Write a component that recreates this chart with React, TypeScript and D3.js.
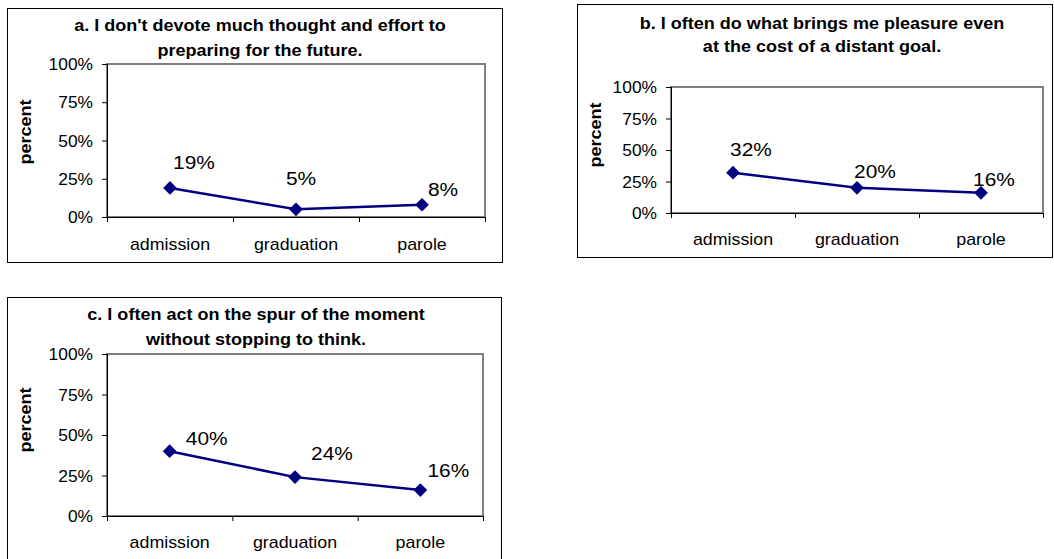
import * as d3 from "d3";

const categories = ["admission", "graduation", "parole"];
const yTicks = [0, 0.25, 0.5, 0.75, 1];

const titleA = ["a. I don't devote much thought and effort to", "preparing for the future."];
const titleB = ["b. I often do what brings me pleasure even", "at the cost of a distant goal."];
const titleC = ["c. I often act on the spur of the moment", "without stopping to think."];

const valuesA = [0.19, 0.05, 0.08];
const valuesB = [0.32, 0.2, 0.16];
const valuesC = [0.4, 0.24, 0.16];

const FONT = "Arial, 'Liberation Sans', sans-serif";
const SX = 1.1; // the original text is rendered a bit wider than Liberation Sans
const NAVY = "#000080";

type Box = { x: number; y: number; w: number; h: number };
type Plot = { l: number; t: number; r: number; b: number };

type PanelProps = {
  frame: Box;
  plot: Plot;
  title: string[];
  titleX: number;
  titleY: number[];
  catY: number;
  yLabel: [number, number];
  values: number[];
  labelOff: [number, number][];
};

function Txt({
  x,
  y,
  size,
  bold,
  anchor = "middle",
  rotate = 0,
  children,
}: {
  x: number;
  y: number;
  size: number;
  bold?: boolean;
  anchor?: string;
  rotate?: number;
  children: any;
}) {
  return (
    <g transform={`translate(${x},${y}) rotate(${rotate}) scale(${SX},1)`}>
      <text
        x={0}
        y={0}
        textAnchor={anchor}
        fontSize={size}
        fontWeight={bold ? "bold" : "normal"}
        fontFamily={FONT}
        fill="#000"
      >
        {children}
      </text>
    </g>
  );
}

function Panel({ frame, plot, title, titleX, titleY, catY, yLabel, values, labelOff }: PanelProps) {
  const x = d3.scaleBand().domain(categories).range([plot.l, plot.r]).padding(0);
  const y = d3.scaleLinear().domain([0, 1]).range([plot.b, plot.t]);
  const fmt = d3.format(".0%");
  const cx = (c: string) => (x(c) ?? 0) + x.bandwidth() / 2;

  const line = d3
    .line<number>()
    .x((_, i) => cx(categories[i]))
    .y((d) => y(d));

  const diamond = d3.symbol(d3.symbolDiamond2, 120)();
  const bounds = [...categories.map((c) => x(c) ?? 0), plot.r];

  return (
    <g>
      <rect x={frame.x + 0.5} y={frame.y + 0.5} width={frame.w} height={frame.h} fill="#fff" stroke="#000" strokeWidth={1} />
      {title.map((t, i) => (
        <Txt key={i} x={titleX} y={titleY[i]} size={16.4} bold>
          {t}
        </Txt>
      ))}
      <Txt x={yLabel[0]} y={yLabel[1]} size={16.4} bold rotate={-90}>
        percent
      </Txt>
      <rect x={plot.l} y={plot.t} width={plot.r - plot.l} height={plot.b - plot.t} fill="none" stroke="#808080" strokeWidth={2} />
      <line x1={plot.l + 0.5} x2={plot.l + 0.5} y1={plot.t} y2={plot.b + 4} stroke="#000" />
      <line x1={plot.l} x2={plot.r} y1={plot.b + 0.5} y2={plot.b + 0.5} stroke="#000" />
      {yTicks.map((t) => (
        <g key={t}>
          <line x1={plot.l - 5} x2={plot.l} y1={y(t) + 0.5} y2={y(t) + 0.5} stroke="#000" />
          <Txt x={plot.l - 14} y={y(t) + 6} size={15.8} anchor="end">
            {fmt(t)}
          </Txt>
        </g>
      ))}
      {bounds.map((b, i) => (
        <line key={i} x1={b + 0.5} x2={b + 0.5} y1={plot.b} y2={plot.b + 5} stroke="#000" />
      ))}
      {categories.map((c) => (
        <Txt key={c} x={cx(c)} y={catY} size={16.2}>
          {c}
        </Txt>
      ))}
      <path d={line(values) ?? ""} fill="none" stroke={NAVY} strokeWidth={2.5} />
      {values.map((v, i) => (
        <path key={i} d={diamond ?? ""} transform={`translate(${cx(categories[i])},${y(v)})`} fill={NAVY} />
      ))}
      {values.map((v, i) => (
        <Txt key={i} x={cx(categories[i]) + labelOff[i][0]} y={y(v) + labelOff[i][1] + 7} size={19}>
          {fmt(v)}
        </Txt>
      ))}
    </g>
  );
}

export default function App() {
  return (
    <svg
      width={1054}
      height={559}
      style={{ position: "absolute", left: 0, top: 0, background: "#fff" }}
    >
      <Panel
        frame={{ x: 7, y: 8, w: 495, h: 254 }}
        plot={{ l: 107, t: 64, r: 485, b: 217 }}
        title={titleA}
        titleX={260}
        titleY={[31, 55.5]}
        catY={250}
        yLabel={[31, 132]}
        values={valuesA}
        labelOff={[
          [24, -26],
          [5, -31],
          [21, -16],
        ]}
      />
      <Panel
        frame={{ x: 577, y: 4, w: 475, h: 253 }}
        plot={{ l: 671, t: 87, r: 1043, b: 213 }}
        title={titleB}
        titleX={822}
        titleY={[28.5, 52]}
        catY={245}
        yLabel={[601, 135]}
        values={valuesB}
        labelOff={[
          [18, -24],
          [18, -17],
          [13, -14],
        ]}
      />
      <Panel
        frame={{ x: 7, y: 297, w: 494, h: 270 }}
        plot={{ l: 107, t: 354, r: 483, b: 516 }}
        title={titleC}
        titleX={256}
        titleY={[320, 345]}
        catY={548}
        yLabel={[31, 420]}
        values={valuesC}
        labelOff={[
          [37, -13],
          [37, -24],
          [28, -20],
        ]}
      />
    </svg>
  );
}
